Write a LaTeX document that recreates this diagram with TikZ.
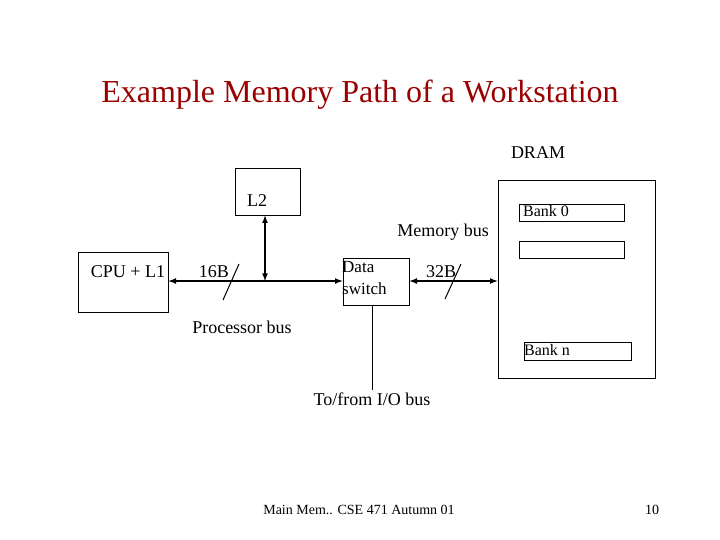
\documentclass[tikz,border=0pt]{standalone}
\usepackage{fontspec}
\setmainfont{Liberation Serif}
\begin{document}
\begin{tikzpicture}[x=1pt,y=-1pt,
  box/.style={draw,line width=0.8pt,inner sep=0pt},
  lbl/.style={inner sep=0pt,font=\fontsize{18}{19}\selectfont},
  bus/.style={line width=1.6pt,<->,>={latex}},
  slash/.style={line width=1pt}]
\useasboundingbox (0,0) rectangle (720,540);
\node[inner sep=0pt,text=red!60!black,font=\fontsize{32}{34}\selectfont] (title) at (360,95) {Example Memory Path of a Workstation};
\node[box,minimum width=90,minimum height=60] (cpu) at (123,282) {};
\node[lbl] (cpul) at (128,272) {CPU + L1};
\node[box,minimum width=65,minimum height=47] (l2) at (267.5,191.5) {};
\node[lbl] (l2l) at (257,201) {L2};
\node[box,minimum width=66,minimum height=47] (ds) at (376,281.5) {};
\node[lbl,align=left,anchor=north west,font=\fontsize{17}{22}\selectfont] (dsl) at (342,261) {Data\\switch};
\node[box,minimum width=157,minimum height=198] (dram) at (576.5,279) {};
\node[lbl] (draml) at (538,153) {DRAM};
\node[box,minimum width=105,minimum height=17] (b0) at (571.5,212.5) {};
\node[lbl,font=\fontsize{16}{17}\selectfont] (b0l) at (546,211) {Bank 0};
\node[box,minimum width=105,minimum height=17] (b1) at (571.5,249.5) {};
\node[box,minimum width=107,minimum height=18] (bn) at (577.5,351) {};
\node[lbl,font=\fontsize{16}{17}\selectfont] (bnl) at (547,350) {Bank n};
\node[lbl] (mb) at (443,232) {Memory bus};
\node[lbl] (b16) at (214,272) {16B};
\node[lbl] (b32) at (441,272) {32B};
\node[lbl] (pb) at (242,327) {Processor bus};
\node[lbl] (io) at (372,399) {To/from I/O bus};
\node[inner sep=0pt,font=\fontsize{14}{15}\selectfont] (foot) at (359,510) {Main Mem.. CSE 471 Autumn 01};
\node[inner sep=0pt,font=\fontsize{14}{15}\selectfont] (pg) at (652,510) {10};
\draw[bus] (cpu.east |- 0,281) -- (ds.west |- 0,281);
\coordinate (j) at (265,281);
\draw[bus] (j) -- (l2.south -| j);
\draw[bus] (ds.east |- 0,281) -- (dram.west |- 0,281);
\draw[line width=0.8pt] (ds.south -| 372,0) -- (372,390) coordinate (ioe);
\draw[slash] (223,300) -- (239,264);
\draw[slash] (445,299) -- (461,264);
\end{tikzpicture}
\end{document}
